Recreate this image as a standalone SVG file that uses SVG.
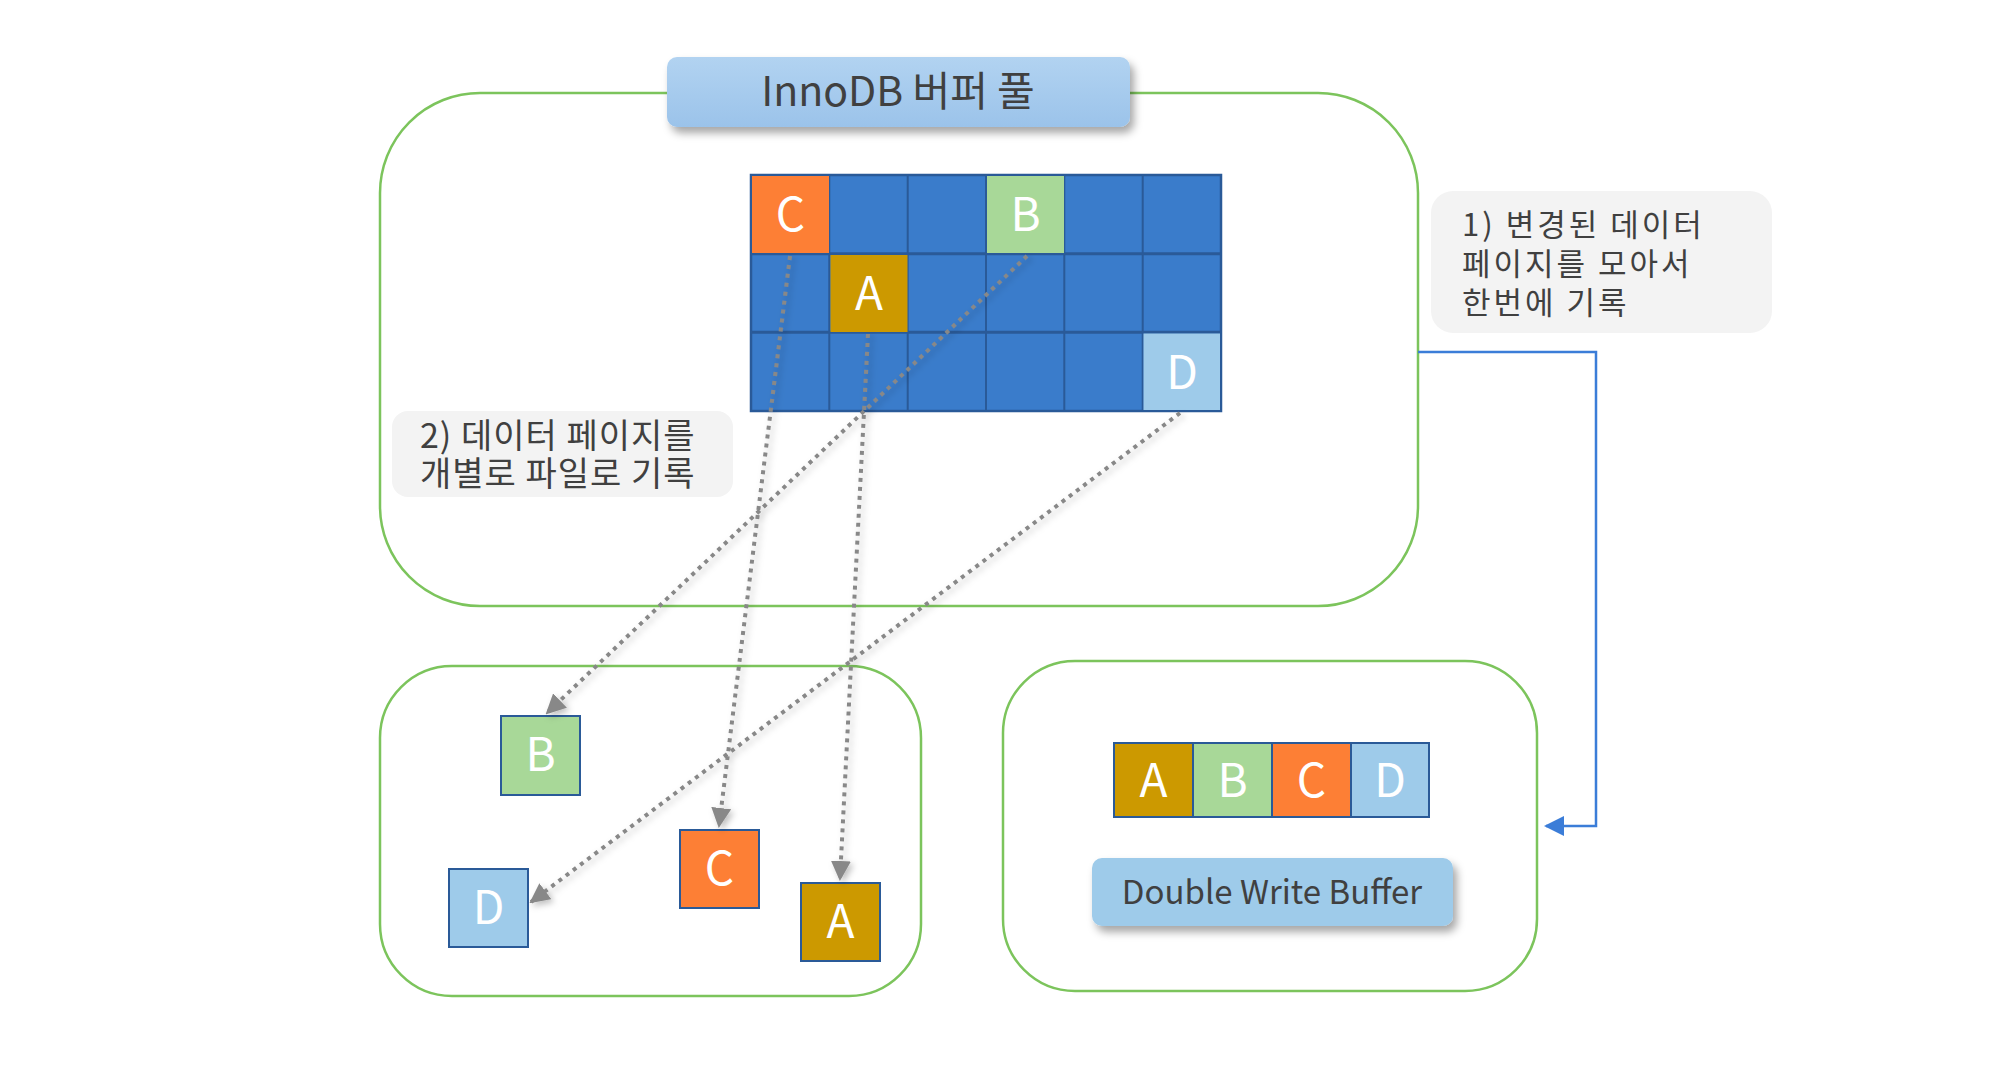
<svg xmlns="http://www.w3.org/2000/svg" width="2000" height="1071" viewBox="0 0 2000 1071">
<defs>
<style>
.grp{fill:none;stroke:#7cc45c;stroke-width:2.5}
.cell{stroke:#2a5a98;stroke-width:2}
.lt{font-family:"Noto Sans CJK KR","Noto Sans",sans-serif;fill:#ffffff;font-size:46px;text-anchor:middle}
.note{fill:#f3f3f3}
.nt{font-family:"Noto Sans CJK KR","Noto Sans",sans-serif;fill:#404040}
.dot{fill:none;stroke:#888888;stroke-width:4;stroke-dasharray:4 5;marker-end:url(#ga)}
</style>
<linearGradient id="tg" x1="0" y1="0" x2="0" y2="1">
<stop offset="0" stop-color="#b2d3f1"/>
<stop offset="1" stop-color="#9bc3ea"/>
</linearGradient>
<filter id="sh" x="-10%" y="-30%" width="130%" height="180%">
<feDropShadow dx="4" dy="6" stdDeviation="4" flood-color="#000" flood-opacity="0.35"/>
</filter>
<filter id="ds" x="-20%" y="-20%" width="140%" height="140%">
<feDropShadow dx="3" dy="3" stdDeviation="3" flood-color="#000" flood-opacity="0.25"/>
</filter>
<marker id="ga" viewBox="0 0 10 10" refX="9" refY="5" markerWidth="5" markerHeight="5" orient="auto" markerUnits="strokeWidth">
<path d="M0,0 L10,5 L0,10 Z" fill="#888888"/>
</marker>
<marker id="ba" viewBox="0 0 10 10" refX="9" refY="5" markerWidth="8" markerHeight="8" orient="auto" markerUnits="strokeWidth">
<path d="M0,0 L10,5 L0,10 Z" fill="#3b7dd8"/>
</marker>
</defs>
<rect width="2000" height="1071" fill="#ffffff"/>

<g id="buffer-pool">
<rect class="grp" x="380" y="93" width="1038" height="513" rx="100"/>
<g id="title" filter="url(#sh)">
<rect x="667" y="57" width="463" height="70" rx="10" fill="url(#tg)"/>
</g>
<text x="898" y="106" class="nt" font-size="41" text-anchor="middle" fill="#333f50">InnoDB 버퍼 풀</text>
</g>

<g id="grid">
<rect x="751" y="175" width="470" height="236" fill="#3a7ccb" stroke="#2a5a98" stroke-width="2.5"/>
<g stroke="#2a5a98" stroke-width="2">
<line x1="829.3" y1="175" x2="829.3" y2="411"/>
<line x1="907.7" y1="175" x2="907.7" y2="411"/>
<line x1="986" y1="175" x2="986" y2="411"/>
<line x1="1064.3" y1="175" x2="1064.3" y2="411"/>
<line x1="1142.7" y1="175" x2="1142.7" y2="411"/>
<line x1="751" y1="253.7" x2="1221" y2="253.7" stroke-width="3"/>
<line x1="751" y1="332.3" x2="1221" y2="332.3" stroke-width="3"/>
</g>
<g id="grid-C"><rect x="752" y="176" width="77" height="77" fill="#fd7f35"/><text class="lt" x="790.5" y="231">C</text></g>
<g id="grid-B"><rect x="987" y="176" width="77" height="77" fill="#a8d898"/><text class="lt" x="1025.5" y="231">B</text></g>
<g id="grid-A"><rect x="830.5" y="255" width="77" height="77" fill="#cc9900"/><text class="lt" x="869" y="310">A</text></g>
<g id="grid-D"><rect x="1143.5" y="333.5" width="76.5" height="76.5" fill="#9ecbea"/><text class="lt" x="1182" y="389">D</text></g>
</g>

<g id="note1">
<rect class="note" x="1431" y="191" width="341" height="142" rx="22"/>
<text class="nt" font-size="31" letter-spacing="3"><tspan x="1462" y="236">1) 변경된 데이터</tspan><tspan x="1462" y="275">페이지를 모아서</tspan><tspan x="1462" y="314">한번에 기록</tspan></text>
</g>

<g id="note2">
<rect class="note" x="392" y="411" width="341" height="86" rx="16"/>
<text class="nt" font-size="34" letter-spacing="1"><tspan x="420" y="448">2) 데이터 페이지를</tspan><tspan x="420" y="486">개별로 파일로 기록</tspan></text>
</g>

<g id="data-files">
<rect class="grp" x="380" y="666" width="541" height="330" rx="72"/>
<g id="file-B"><rect class="cell" x="501" y="716" width="79" height="79" fill="#a8d898"/><text class="lt" x="540.5" y="771">B</text></g>
<g id="file-D"><rect class="cell" x="449" y="869" width="79" height="78" fill="#9ecbea"/><text class="lt" x="488.5" y="924">D</text></g>
<g id="file-C"><rect class="cell" x="680" y="830" width="79" height="78" fill="#fd7f35"/><text class="lt" x="719.5" y="885">C</text></g>
<g id="file-A"><rect class="cell" x="801" y="883" width="79" height="78" fill="#cc9900"/><text class="lt" x="840.5" y="938">A</text></g>
</g>

<g id="double-write">
<rect class="grp" x="1003" y="661" width="534" height="330" rx="72"/>
<rect x="1113" y="742" width="317" height="76" fill="#2a5a98"/>
<g id="dw-A"><rect x="1115" y="744" width="77" height="72" fill="#cc9900"/><text class="lt" x="1153.5" y="797">A</text></g>
<g id="dw-B"><rect x="1194" y="744" width="77" height="72" fill="#a8d898"/><text class="lt" x="1232.5" y="797">B</text></g>
<g id="dw-C"><rect x="1273" y="744" width="77" height="72" fill="#fd7f35"/><text class="lt" x="1311.5" y="797">C</text></g>
<g id="dw-D"><rect x="1352" y="744" width="76" height="72" fill="#9ecbea"/><text class="lt" x="1390" y="797">D</text></g>
<g id="dwb-label" filter="url(#sh)">
<rect x="1092" y="858" width="361" height="68" rx="10" fill="#9ecbea"/>
</g>
<text x="1272" y="904" class="nt" font-size="33" text-anchor="middle" fill="#3a4050">Double Write Buffer</text>
</g>

<g id="connectors">
<g filter="url(#ds)">
<path class="dot" d="M790,256 L719,826"/>
<path class="dot" d="M868,334 L840,879"/>
<path class="dot" d="M1027,256 L547,713"/>
<path class="dot" d="M1180,413 L531,902"/>
</g>
<path d="M1418,352 H1596 V826 H1546" fill="none" stroke="#3b7dd8" stroke-width="2.5" marker-end="url(#ba)"/>
</g>
</svg>
